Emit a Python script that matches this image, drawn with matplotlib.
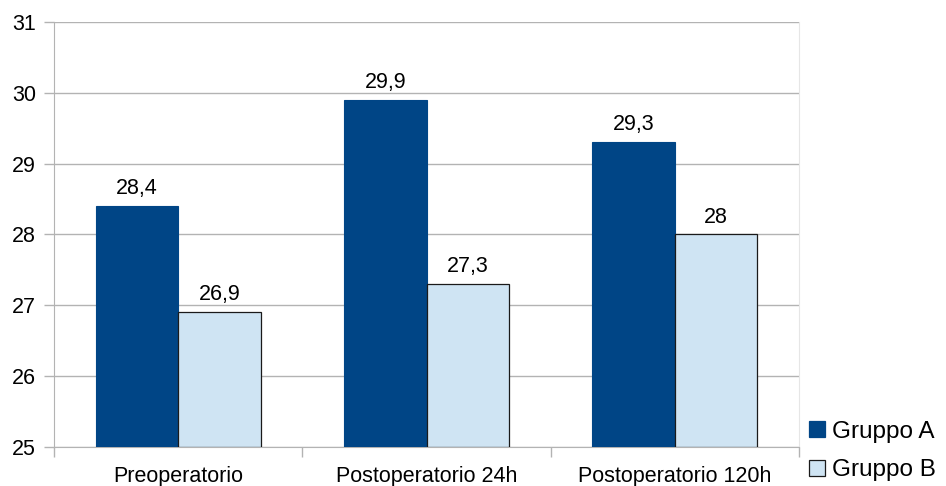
import matplotlib
matplotlib.use("Agg")
import matplotlib.pyplot as plt
import numpy as np
from matplotlib.patches import Rectangle

plt.rcParams['font.family'] = ['Liberation Sans', 'DejaVu Sans']

categories = ["Preoperatorio", "Postoperatorio 24h", "Postoperatorio 120h"]
gruppo_a = [28.4, 29.9, 29.3]
gruppo_b = [26.9, 27.3, 28.0]
series_names = ["Gruppo A", "Gruppo B"]
y_ticks = [25, 26, 27, 28, 29, 30, 31]

color_a = "#004586"
color_b = "#cfe4f3"
edge_b = "#1a1a1a"
grid_color = "#b3b3b3"
fs = 15.5

W, H = 946, 486
fig = plt.figure(figsize=(W / 100, H / 100), dpi=100)
ax = fig.add_axes([54 / W, 1 - 447 / H, (799 - 54) / W, (447 - 22) / H])

x = np.arange(len(categories)) + 0.5
w = 0.332
base = y_ticks[0]

ax.bar(x - w / 2, np.array(gruppo_a) - base, w, bottom=base,
       color=color_a, edgecolor=color_a, linewidth=0.8, zorder=3)
ax.bar(x + w / 2, np.array(gruppo_b) - base, w, bottom=base,
       color=color_b, edgecolor=edge_b, linewidth=0.9, zorder=3)

def fmt(v):
    s = f"{v:.1f}".replace(".", ",")
    return s[:-2] if s.endswith(",0") else s

for xs, vals in ((x - w / 2, gruppo_a), (x + w / 2, gruppo_b)):
    for xi, v in zip(xs, vals):
        ax.annotate(fmt(v), (xi, v), xytext=(0, 5), textcoords="offset points",
                    ha="center", va="bottom", fontsize=fs, color="black")

ax.set_xlim(0, len(categories))
ax.set_ylim(y_ticks[0], y_ticks[-1])
ax.set_yticks(y_ticks)
ax.set_yticklabels([str(t) for t in y_ticks], fontsize=fs)
ax.yaxis.grid(True, color=grid_color, linewidth=1.0, zorder=0)
ax.set_axisbelow(True)

# category boundary ticks on the x axis, labels centered between them
ax.set_xticks(np.arange(len(categories) + 1))
ax.set_xticklabels([])
ax.set_xticks(x, minor=True)
ax.set_xticklabels(categories, minor=True, fontsize=fs)
ax.tick_params(axis="x", which="minor", length=0, pad=14)
ax.tick_params(axis="x", which="major", length=7, color=grid_color, width=1)
ax.tick_params(axis="y", length=7, color=grid_color, width=1, pad=6)

ax.spines["top"].set_visible(False)
ax.spines["left"].set_color(grid_color)
ax.spines["bottom"].set_color(grid_color)
ax.spines["right"].set_color("#e6e6e6")

# legend: swatch + label, laid out in figure pixels
legend_rows = [(series_names[0], color_a, color_a, 429),
               (series_names[1], color_b, edge_b, 467.5)]
sw = 16
for label, face, edge, yc in legend_rows:
    fig.patches.append(Rectangle((809 / W, 1 - (yc + sw / 2) / H), sw / W, sw / H,
                                 transform=fig.transFigure, facecolor=face,
                                 edgecolor=edge, linewidth=0.9))
    fig.text(832 / W, 1 - yc / H, label, fontsize=17.5, ha="left",
             va="center_baseline", color="black")

fig.savefig("out.png", dpi=100)
